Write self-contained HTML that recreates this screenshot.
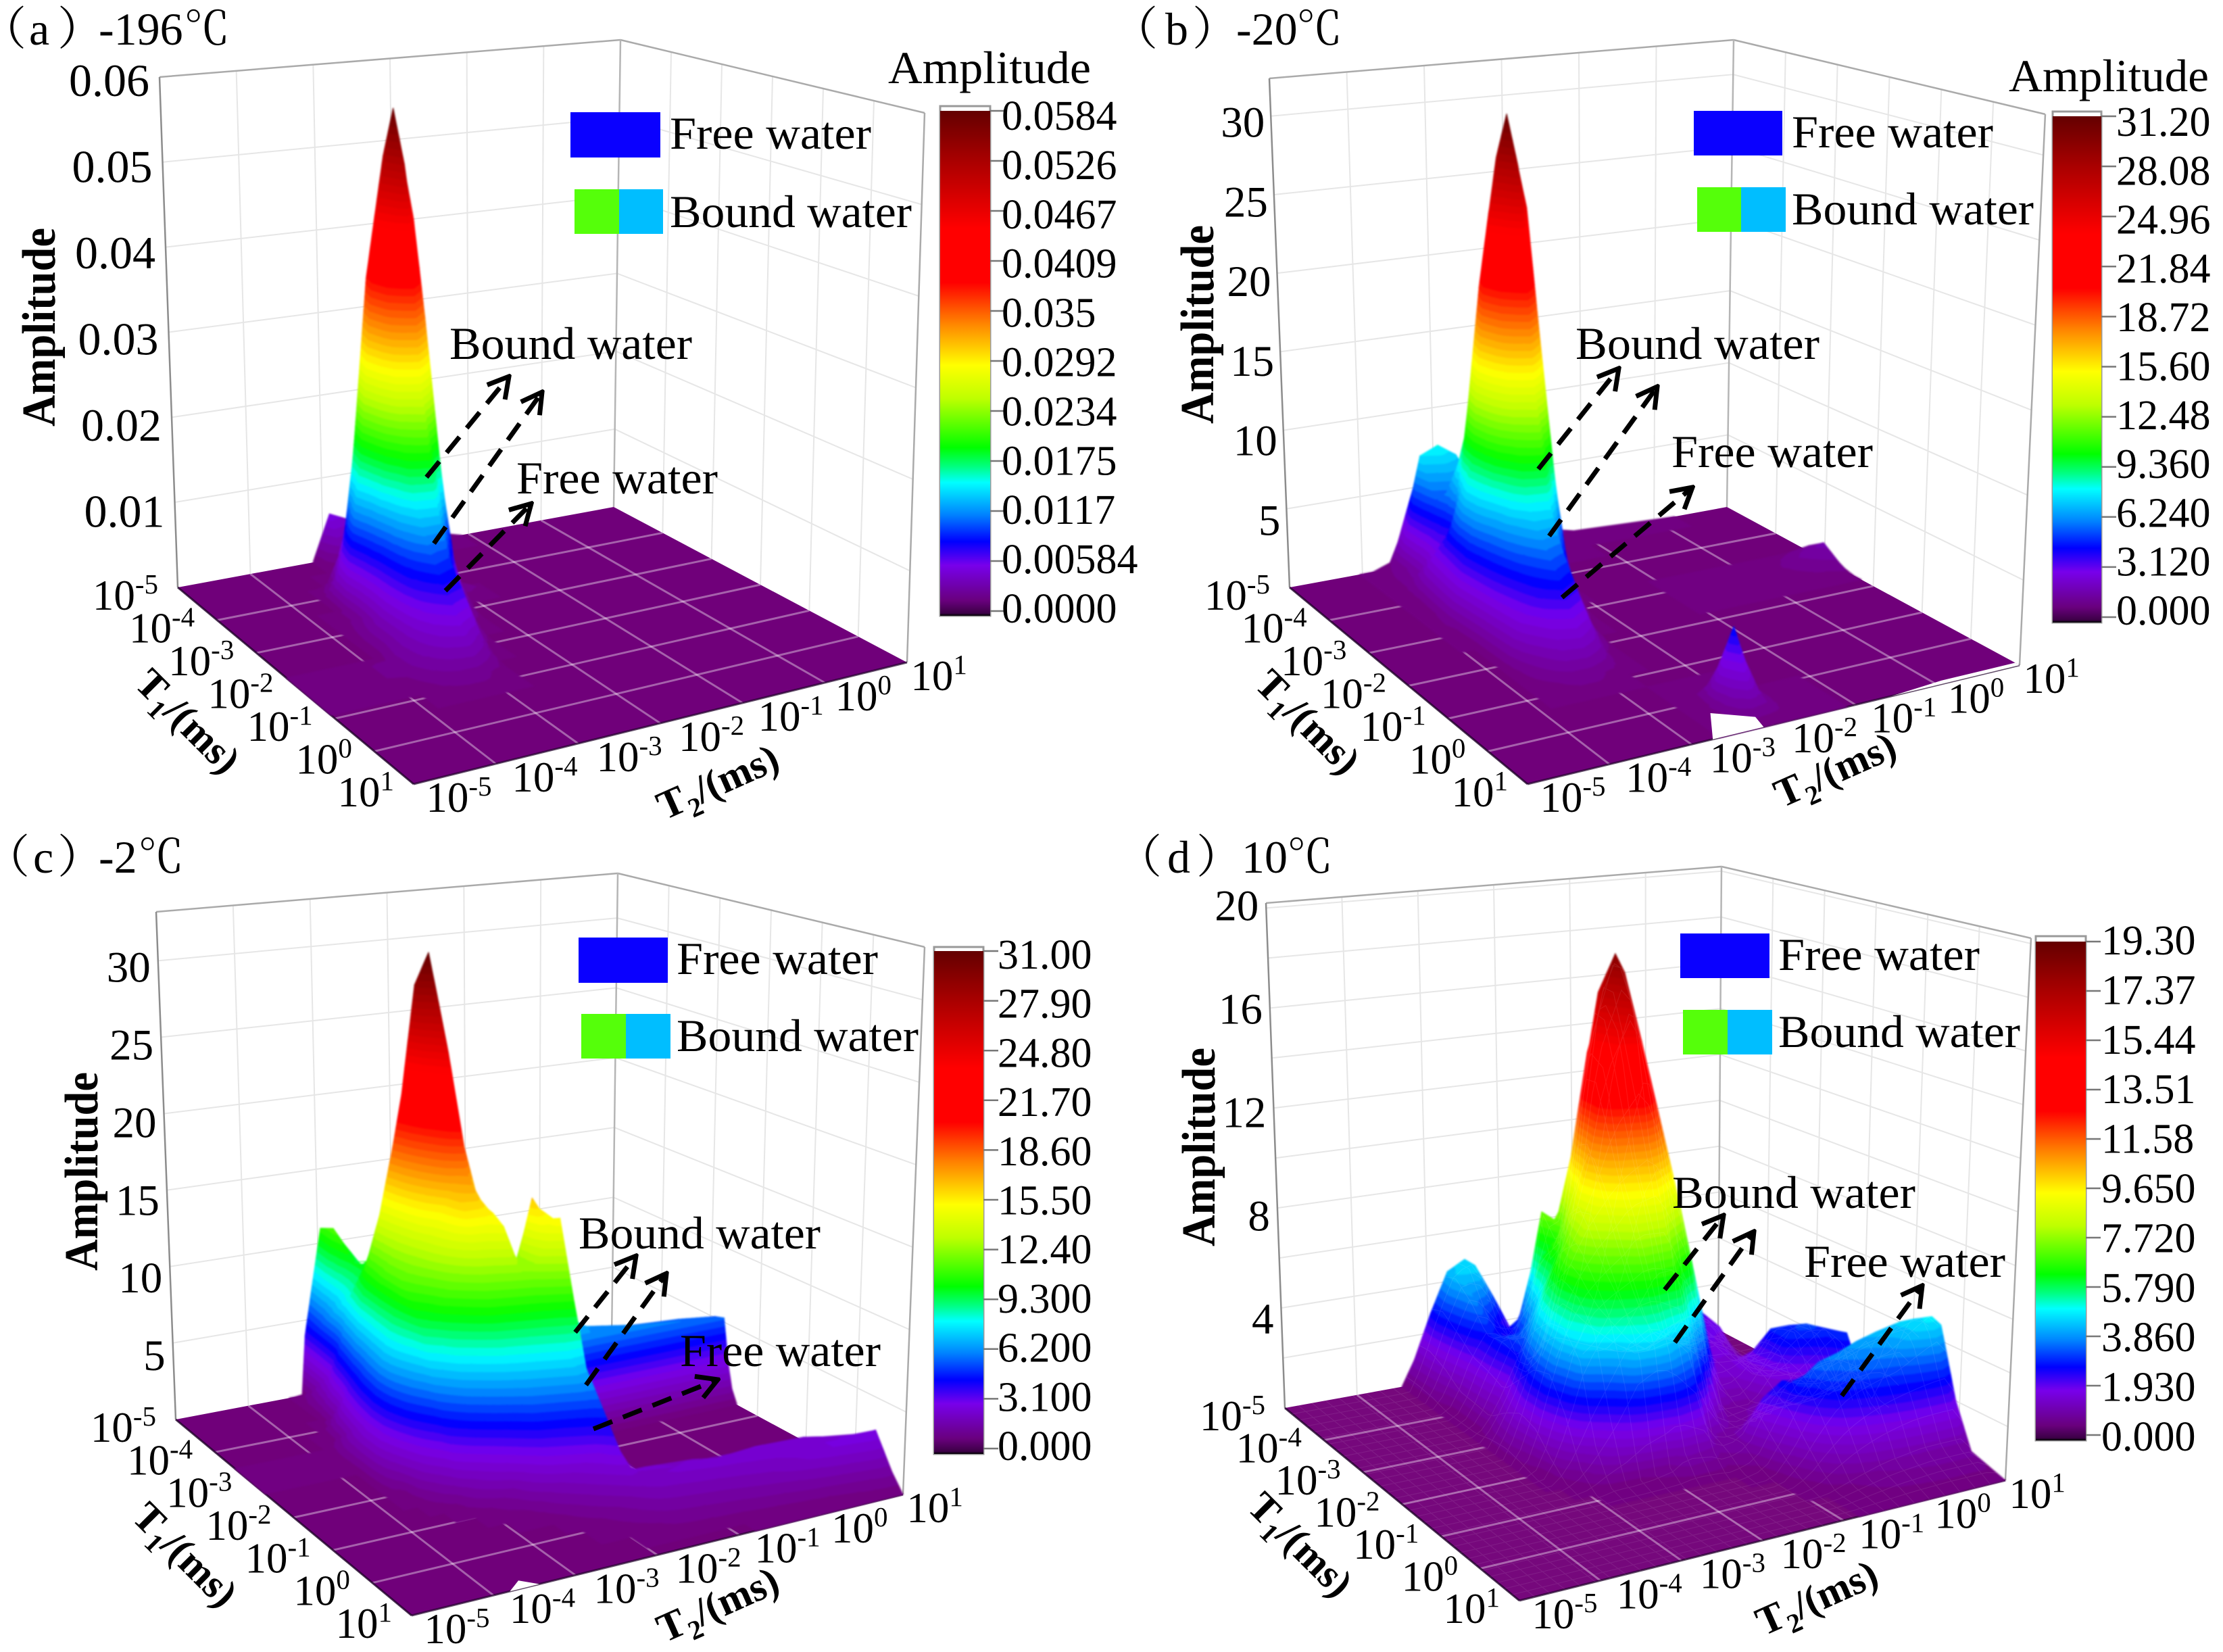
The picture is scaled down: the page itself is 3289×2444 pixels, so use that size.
<!DOCTYPE html>
<html lang="en">
<head>
<meta charset="utf-8">
<title>T1-T2 amplitude surfaces at four temperatures</title>
<style>
html,body{margin:0;padding:0;background:#fff}
svg{display:block}
text{font-family:"Liberation Serif","Noto Serif CJK SC",serif;fill:#000}
.leg{font-size:68px}
.amp{font-size:70px;font-weight:bold}
.ax{font-size:60px;font-weight:bold}
.ttl{font-size:68px}
</style>
</head>
<body>
<svg id="fig" xmlns="http://www.w3.org/2000/svg" width="3289" height="2444" viewBox="0 0 3289 2444">
<defs>
<linearGradient id="cbGrad" x1="0" y1="0" x2="0" y2="1">
<stop offset="0" stop-color="rgb(100,0,0)"/><stop offset=".1" stop-color="rgb(170,0,0)"/><stop offset=".233" stop-color="rgb(255,0,0)"/><stop offset=".34" stop-color="rgb(255,0,0)"/><stop offset=".42" stop-color="rgb(255,130,0)"/><stop offset=".504" stop-color="rgb(255,255,0)"/><stop offset=".57" stop-color="rgb(190,255,0)"/><stop offset=".667" stop-color="rgb(0,255,0)"/><stop offset=".705" stop-color="rgb(0,255,130)"/><stop offset=".736" stop-color="rgb(0,255,255)"/><stop offset=".8" stop-color="rgb(0,130,255)"/><stop offset=".853" stop-color="rgb(0,0,255)"/><stop offset=".9" stop-color="rgb(120,0,235)"/><stop offset=".97" stop-color="rgb(105,0,125)"/><stop offset=".995" stop-color="rgb(60,0,70)"/><stop offset="1" stop-color="#000"/>
</linearGradient>
<marker id="ah" viewBox="0 0 40 40" refX="36" refY="20" markerWidth="40" markerHeight="40" markerUnits="userSpaceOnUse" orient="auto"><path d="M6 3 L36 20 L6 37" fill="none" stroke="#000" stroke-width="7"/></marker>
</defs>

<g id="plot-a"></g>
<g id="plot-b"></g>
<g id="plot-c"></g>
<g id="plot-d"></g>

<!-- panel a -->
<g>
<text class="ttl" y="66"><tspan x="-29">（</tspan><tspan x="43">a</tspan><tspan x="85">）</tspan><tspan x="146">-196</tspan><tspan x="272">℃</tspan></text>
<text class="amp" transform="rotate(-90 81 484)" x="81" y="484" text-anchor="middle" textLength="294" lengthAdjust="spacingAndGlyphs">Amplitude</text>
<text class="ax" transform="rotate(45 264 1081)" x="264" y="1081" text-anchor="middle">T<tspan font-size="40" dy="14">1</tspan><tspan dy="-14">/(ms)</tspan></text>
<text class="ax" transform="rotate(-24 1070 1175)" x="1070" y="1175" text-anchor="middle">T<tspan font-size="40" dy="14">2</tspan><tspan dy="-14">/(ms)</tspan></text>
<text class="leg" x="1314" y="123" textLength="300" lengthAdjust="spacingAndGlyphs">Amplitude</text>
<rect x="844" y="166" width="133" height="67" fill="#0a00ff"/>
<rect x="850" y="280" width="66" height="66" fill="#55ff0a"/>
<rect x="916" y="280" width="65" height="66" fill="#00beff"/>
<text class="leg" x="991" y="220" textLength="298" lengthAdjust="spacingAndGlyphs">Free water</text>
<text class="leg" x="991" y="336" textLength="358" lengthAdjust="spacingAndGlyphs">Bound water</text>
<text class="leg" x="665" y="531" textLength="359" lengthAdjust="spacingAndGlyphs">Bound water</text>
<text class="leg" x="764" y="730" textLength="298" lengthAdjust="spacingAndGlyphs">Free water</text>
<line x1="631" y1="706" x2="753" y2="557" stroke="#000" stroke-width="7" stroke-dasharray="30 17" marker-end="url(#ah)"/>
<line x1="642" y1="804" x2="802" y2="580" stroke="#000" stroke-width="7" stroke-dasharray="30 17" marker-end="url(#ah)"/>
<line x1="659" y1="874" x2="786" y2="745" stroke="#000" stroke-width="7" stroke-dasharray="30 17" marker-end="url(#ah)"/>
</g>

<!-- panel b -->
<g>
<text class="ttl" y="66"><tspan x="1645">（</tspan><tspan x="1724">b</tspan><tspan x="1764">）</tspan><tspan x="1829">-20</tspan><tspan x="1918">℃</tspan></text>
<text class="amp" transform="rotate(-90 1795 480)" x="1795" y="480" text-anchor="middle" textLength="294" lengthAdjust="spacingAndGlyphs">Amplitude</text>
<text class="ax" transform="rotate(45 1921 1082)" x="1921" y="1082" text-anchor="middle">T<tspan font-size="40" dy="14">1</tspan><tspan dy="-14">/(ms)</tspan></text>
<text class="ax" transform="rotate(-24 2723 1157)" x="2723" y="1157" text-anchor="middle">T<tspan font-size="40" dy="14">2</tspan><tspan dy="-14">/(ms)</tspan></text>
<text class="leg" x="2972" y="135" textLength="296" lengthAdjust="spacingAndGlyphs">Amplitude</text>
<rect x="2506" y="164" width="131" height="66" fill="#0a00ff"/>
<rect x="2511" y="277" width="65" height="66" fill="#55ff0a"/>
<rect x="2576" y="277" width="66" height="66" fill="#00beff"/>
<text class="leg" x="2651" y="218" textLength="298" lengthAdjust="spacingAndGlyphs">Free water</text>
<text class="leg" x="2651" y="332" textLength="358" lengthAdjust="spacingAndGlyphs">Bound water</text>
<text class="leg" x="2331" y="531" textLength="361" lengthAdjust="spacingAndGlyphs">Bound water</text>
<text class="leg" x="2473" y="691" textLength="298" lengthAdjust="spacingAndGlyphs">Free water</text>
<line x1="2276" y1="694" x2="2395" y2="545" stroke="#000" stroke-width="7" stroke-dasharray="30 17" marker-end="url(#ah)"/>
<line x1="2292" y1="793" x2="2452" y2="572" stroke="#000" stroke-width="7" stroke-dasharray="30 17" marker-end="url(#ah)"/>
<line x1="2311" y1="884" x2="2504" y2="721" stroke="#000" stroke-width="7" stroke-dasharray="30 17" marker-end="url(#ah)"/>
</g>

<!-- panel c -->
<g>
<text class="ttl" y="1291"><tspan x="-24">（</tspan><tspan x="49">c</tspan><tspan x="85">）</tspan><tspan x="146">-2</tspan><tspan x="204">℃</tspan></text>
<text class="amp" transform="rotate(-90 144 1733)" x="144" y="1733" text-anchor="middle" textLength="294" lengthAdjust="spacingAndGlyphs">Amplitude</text>
<text class="ax" transform="rotate(45 260 2314)" x="260" y="2314" text-anchor="middle">T<tspan font-size="40" dy="14">1</tspan><tspan dy="-14">/(ms)</tspan></text>
<text class="ax" transform="rotate(-24 1070 2392)" x="1070" y="2392" text-anchor="middle">T<tspan font-size="40" dy="14">2</tspan><tspan dy="-14">/(ms)</tspan></text>
<rect x="856" y="1387" width="132" height="67" fill="#0a00ff"/>
<rect x="860" y="1500" width="66" height="66" fill="#55ff0a"/>
<rect x="926" y="1500" width="66" height="66" fill="#00beff"/>
<text class="leg" x="1001" y="1441" textLength="298" lengthAdjust="spacingAndGlyphs">Free water</text>
<text class="leg" x="1001" y="1555" textLength="358" lengthAdjust="spacingAndGlyphs">Bound water</text>
<text class="leg" x="856" y="1847" textLength="358" lengthAdjust="spacingAndGlyphs">Bound water</text>
<line x1="851" y1="1971" x2="941" y2="1858" stroke="#000" stroke-width="7" stroke-dasharray="30 17" marker-end="url(#ah)"/>
<line x1="867" y1="2049" x2="986" y2="1884" stroke="#000" stroke-width="7" stroke-dasharray="30 17" marker-end="url(#ah)"/>
<line x1="878" y1="2114" x2="1062" y2="2041" stroke="#000" stroke-width="7" stroke-dasharray="30 17" marker-end="url(#ah)"/>
<text class="leg" x="1006" y="2021" textLength="297" lengthAdjust="spacingAndGlyphs">Free water</text>
</g>

<!-- panel d -->
<g>
<text class="ttl" y="1291"><tspan x="1651">（</tspan><tspan x="1727">d</tspan><tspan x="1770">）</tspan><tspan x="1837">10</tspan><tspan x="1904">℃</tspan></text>
<text class="amp" transform="rotate(-90 1797 1697)" x="1797" y="1697" text-anchor="middle" textLength="294" lengthAdjust="spacingAndGlyphs">Amplitude</text>
<text class="ax" transform="rotate(45 1910 2299)" x="1910" y="2299" text-anchor="middle">T<tspan font-size="40" dy="14">1</tspan><tspan dy="-14">/(ms)</tspan></text>
<text class="ax" transform="rotate(-24 2696 2382)" x="2696" y="2382" text-anchor="middle">T<tspan font-size="40" dy="14">2</tspan><tspan dy="-14">/(ms)</tspan></text>
<rect x="2486" y="1381" width="132" height="66" fill="#0a00ff"/>
<rect x="2490" y="1494" width="66" height="66" fill="#55ff0a"/>
<rect x="2556" y="1494" width="66" height="66" fill="#00beff"/>
<text class="leg" x="2631" y="1435" textLength="298" lengthAdjust="spacingAndGlyphs">Free water</text>
<text class="leg" x="2631" y="1549" textLength="358" lengthAdjust="spacingAndGlyphs">Bound water</text>
<text class="leg" x="2474" y="1787" textLength="360" lengthAdjust="spacingAndGlyphs">Bound water</text>
<text class="leg" x="2669" y="1889" textLength="298" lengthAdjust="spacingAndGlyphs">Free water</text>
<line x1="2463" y1="1908" x2="2550" y2="1798" stroke="#000" stroke-width="7" stroke-dasharray="30 17" marker-end="url(#ah)"/>
<line x1="2478" y1="1986" x2="2595" y2="1822" stroke="#000" stroke-width="7" stroke-dasharray="30 17" marker-end="url(#ah)"/>
<line x1="2725" y1="2065" x2="2844" y2="1902" stroke="#000" stroke-width="7" stroke-dasharray="30 17" marker-end="url(#ah)"/>
</g>
</svg>

<script>
// ---------- shared axis data (log10 of T1, T2 in ms) ----------
const t1TickLogs = [-5,-4,-3,-2,-1,0,1];
const t2TickLogs = [-5,-4,-3,-2,-1,0,1];

// ---------- panel a (amplitude in units of 10^-3) ----------
const zTicksA = [10,20,30,40,50,60];
const zLabelsA = ['0.01','0.02','0.03','0.04','0.05','0.06'];
const cbLabelsA = ['0.0584','0.0526','0.0467','0.0409','0.035','0.0292','0.0234','0.0175','0.0117','0.00584','0.0000'];
const t1NodesA = [-5,-4.64,-4.28,-3.92,-3.62,-3.38,-3.14,-2.84,-2.54,-2.24,-1.88,-1.52,-1.1,-0.68,1];
const t2NodesA = [-5,-3.86,-3.62,-3.38,-3.14,-2.9,-2.66,-2.42,-2.18,-1.7,-1.1,1];
const amplitudeA = [
[0,0,0,0,0,0,0,0,0,0,0,0,0,0,0],
[0,0,0,0,0,0,0,0,0,0,1,1,0,0,0],
[0,0,0,0,0,1,1,2,3,3,3,2.5,1,0,0],
[0,0,0,3,12,18,13,10,9,8,6,4,1.5,0,0],
[0,0,.5,16,38,45,38,22,15,11,8,5,1.5,0,0],
[5.5,.5,1,24,52,58,52,28,16,10,7,3,.5,0,0],
[4.5,.5,.5,16,38,45,34,14,7,3,1,0,0,0,0],
[3.5,.5,0,3,12,18,9,3,1,0,0,0,0,0,0],
[3,.3,0,0,0,2,0,0,0,0,0,0,0,0,0],
[1.5,0,0,0,0,0,0,0,0,0,0,0,0,0,0],
[0,0,0,0,0,0,0,0,0,0,0,0,0,0,0],
[0,0,0,0,0,0,0,0,0,0,0,0,0,0,0]];

// ---------- panel b ----------
const zTicksB = [5,10,15,20,25,30];
const zLabelsB = ['5','10','15','20','25','30'];
const cbLabelsB = ['31.20','28.08','24.96','21.84','18.72','15.60','12.48','9.360','6.240','3.120','0.000'];
const t1NodesB = [-5,-4.64,-4.28,-3.92,-3.62,-3.38,-3.14,-2.84,-2.54,-2.24,-1.88,-1.52,-1.1,-0.68,-0.08,0.4,0.82,1];
const t2NodesB = [-5,-4.04,-3.86,-3.62,-3.38,-3.14,-2.9,-2.66,-2.42,-2.18,-1.94,-1.7,-1.1,0.28,0.88,1];
const amplitudeB = [
[0,0,0,0,0,0,0,0,0,0,0,0,0,0,0,0,0,0],
[0,0,0,0,0,0,0,0,0,0,0,0,0,0,0,0,0,0],
[0,.2,.1,0,.3,.5,.6,.3,0,0,0,0,0,0,0,0,0,0],
[.4,.8,1.2,3,3.5,4,4.5,4,3.5,3,2.5,1.2,.3,0,0,0,0,0],
[3,7.8,5.5,4,8,10,9,7,6,5,4,2.5,.8,0,0,0,0,0],
[6.5,8.3,6,11,20,25,20,12,8,6.5,5,3,.8,0,0,0,0,0],
[7,7.5,6,16,28,31,28,15,8.5,6,4,2,.3,0,0,0,0,0],
[5,5,5,10,20,25,18,8,4,2,1,.2,0,0,0,0,0,0],
[3,3,2,3,7,10,5,1.5,.5,0,0,0,0,0,.1,.5,.3,0],
[2,1.5,.3,0,0,.5,0,0,0,0,0,0,0,0,.3,4.8,1,0],
[1.5,.5,0,0,0,0,0,0,0,0,0,0,0,0,.1,1.2,.6,0],
[1,.5,0,0,0,0,0,0,0,0,0,0,0,0,0,.1,.2,0],
[.3,0,0,0,0,0,0,0,0,0,0,0,0,0,0,0,0,0],
[0,0,0,0,0,0,.1,.3,.1,0,0,0,0,0,0,0,0,0],
[0,0,0,0,0,0,.8,1.5,.8,0,0,0,0,0,0,0,0,0],
[0,0,0,0,0,0,0,0,0,0,0,0,0,0,0,0,0,0]];
const gapsB = [
[[-2.74,1],[-2.42,.34],[-2.06,.7],[-2.12,1]],
[[-.56,1],[1,1],[1,.91],[.1,.91]]];

// ---------- panel c ----------
const zTicksC = [5,10,15,20,25,30];
const zLabelsC = ['5','10','15','20','25','30'];
const cbLabelsC = ['31.00','27.90','24.80','21.70','18.60','15.50','12.40','9.300','6.200','3.100','0.000'];
const t1NodesC = [-5,-4.7,-4.28,-3.92,-3.5,-3.08,-2.72,-2.54,-2.42,-2.18,-1.88,-1.58,-1.28,-.98,-.68,-.38,-.08,.4,.76,1];
const t2NodesC = [-5,-3.8,-3.62,-3.44,-3.26,-3.2,-2.96,-2.72,-2.54,-2.36,-2.18,-2,-1.82,-1.64,-1.52,-1.4,-.8,-.2,.4,.88,1];
const amplitudeC = [
[0,0,0,0,0,0,0,0,0,0,0,0,0,0,0,0,0,0,0,0],
[0,0,0,0,0,.3,0,0,0,0,0,0,0,0,0,0,0,0,0,0],
[0,0,0,0,.5,2,3,3,3,2,.3,0,0,0,0,0,0,0,0,0],
[0,0,0,.8,4,6,7,6.8,6.3,5,3,1,0,0,0,0,0,0,0,0],
[0,1,3,7,9.5,10,10,9.5,9,7.5,5,2.5,.5,0,0,0,0,0,0,0],
[4,5,7,8.5,10.5,11.5,11.5,11,10.5,9,6,3.5,1,0,0,0,0,0,0,0],
[11,11.5,10,10,15.5,14,13,12.5,12,11,8.5,5.5,2.5,.5,0,0,0,0,0,0],
[9.5,9.5,9,12,22,18,15,14.5,14,12.5,10,7,4,1.2,.2,0,0,0,0,0],
[5,6,8,18,29,21,17,16.5,16,13.5,11,8,5,2.5,.8,0,0,0,0,0],
[3,4,7,20,31,25,18,17,16,14,11.5,8.5,6,3.5,1.5,.5,0,0,0,0],
[0,0,5,14,21,18,15.5,15.5,15.5,15,12,9,6.5,4,2,1,.3,0,0,0],
[0,0,3,8,12,11,10,10,10.5,12,12.5,9.5,7,4.5,2.5,1.5,.6,0,0,0],
[0,0,2,5,8,9,9,11,13,16.5,14,10,7.5,5,3,2,1,.2,0,0],
[0,0,1,3,6,8,8.5,9,10,15,15.5,11,7,5.5,4,2.5,1.5,.4,0,0],
[0,0,0,2,5,7.5,8.5,8,6,2,1,.5,.5,.8,1.5,2.2,1.8,.6,0,0],
[0,0,0,1.5,4,6.5,8.5,8,1,0,0,0,0,.3,1,2.2,2,.7,0,0],
[0,0,0,1,3,5.5,6.5,6.3,0,0,0,0,0,0,.5,2,2.4,1,0,0],
[0,0,0,.8,2.5,5,6,6.2,0,0,0,0,0,0,0,1,2.6,1.5,.2,0],
[0,0,0,.5,2,4.5,5.8,6,0,0,0,0,0,0,0,.3,2.5,2.5,.5,0],
[0,0,0,0,1.5,4,5.5,5.7,0,0,0,0,0,0,0,0,2,3,1,0],
[0,0,0,0,0,0,0,0,0,0,0,0,0,0,0,0,1.5,3,1,0]];
const gapsC = [[[-3.8,1],[-3.59,.79],[-3.44,1]]];

// ---------- panel d ----------
const zTicksD = [4,8,12,16,20];
const zLabelsD = ['4','8','12','16','20'];
const zMinorTicksD = [2,6,10,14,18];
const cbLabelsD = ['19.30','17.37','15.44','13.51','11.58','9.650','7.720','5.790','3.860','1.930','0.000'];
const t1NodesD = [-5,-4.76,-4.4,-4.04,-3.68,-3.32,-2.96,-2.6,-2.24,-1.88,-1.52,-1.16,-.8,-.44,-.08,.28,1];
const t2NodesD = [-5,-3.38,-3.2,-2.96,-2.72,-2.48,-2.24,-2,-1.82,-1.46,-1.34,-1.04,-.8,-.56,-.32,-.08,.16,.4,.7,.88,1];
const amplitudeD = [
[0,0,0,0,0,0,0,0,0,0,0,0,0,0,0,0,0],
[0,0,0,0,0,0,0,0,0,0,0,0,0,0,0,0,0],
[1,1,.8,.3,.3,.3,.8,1,.6,.1,0,0,0,0,0,0,0],
[2.8,3,2.5,2,1.8,1.5,2.2,3,3.2,2,.5,0,0,0,0,0,0],
[4.4,4.6,4,3,3.2,3,4.5,5.2,5.3,4.5,1.5,.2,0,0,0,0,0],
[4.8,4.8,3,2.5,3,4.8,6.5,7.2,6.5,5.5,2.8,.2,0,0,0,0,0],
[3.4,3.4,2,3.5,6,6.5,8,8.6,7.2,5.9,4.4,.3,0,0,0,0,0],
[1.5,1.5,2,7.5,6.5,9,11,9.6,7.8,6.2,4.8,.5,0,0,0,0,0],
[0,0,1,5,10,14.5,14,10.2,8.5,6.4,4.5,1,0,0,0,0,0],
[.3,1.5,5,11,16.5,18.3,16.5,11,8.5,6,3,.8,0,0,0,0,0],
[0,1.5,5,10,15,17.5,15,10.5,7.5,5,1,.5,0,0,0,0,0],
[0,1,3,6.5,10,13,11,8.5,5.5,1.2,.6,.8,.3,0,0,0,0],
[0,.6,2,4,7,8,7.5,5,.8,.6,.8,2.3,1.5,.8,.3,0,0],
[0,.2,1,2,2,2,1.8,1.2,.7,.8,1,2.8,3,2,1,.2,0],
[0,0,.5,1.2,1.6,1.7,1.6,1.3,.7,1,1.2,2.2,3.7,3,1.6,.4,0],
[0,0,1.5,2.2,2.2,1.8,1.5,2,1.8,1,1.2,2,3.9,3.4,2,.6,0],
[0,.5,1.6,2.2,2,1,1.5,3,3,1.4,1.3,2.2,4.2,3.6,2.3,.7,0],
[0,0,.8,1.2,.6,.2,1.5,3,3.4,2,1.4,2.4,4.4,3.8,2.5,.8,0],
[0,0,0,0,0,0,.8,1.8,3,3.2,1.6,2.5,4.6,4.6,2.6,.8,0],
[0,0,0,0,0,0,0,.8,1,1,.3,2.5,4.6,5,2.6,.8,0],
[0,0,0,0,0,0,0,0,0,0,0,2,4.2,4.6,2,.4,0]];

// ---------- rendering ----------
const NS = 'http://www.w3.org/2000/svg';
const cmapStops = [[0,112,0,122],[.1,120,0,235],[.147,0,0,255],[.2,0,130,255],[.264,0,255,255],[.295,0,255,130],[.333,0,255,0],[.43,190,255,0],[.496,255,255,0],[.58,255,130,0],[.66,255,0,0],[.767,255,0,0],[.9,170,0,0],[1,100,0,0]];
function cmap(f){
  f = Math.max(0, Math.min(1, f));
  for (let i = 1; i < cmapStops.length; i++) {
    if (f <= cmapStops[i][0]) {
      const a = cmapStops[i-1], b = cmapStops[i], t = (f-a[0])/(b[0]-a[0]);
      return 'rgb(' + Math.round(a[1]+(b[1]-a[1])*t) + ',' + Math.round(a[2]+(b[2]-a[2])*t) + ',' + Math.round(a[3]+(b[3]-a[3])*t) + ')';
    }
  }
  return 'rgb(100,0,0)';
}
const logScale = v => (v + 5) / 6;   // log10(T) -> 0..1 along the floor axis

function svgEl(tag, parent){
  const el = document.createElementNS(NS, tag);
  parent.appendChild(el);
  return el;
}
function line(parent, a, b, stroke, width, name){
  const el = svgEl('line', parent);
  el.setAttribute('x1', a[0]); el.setAttribute('y1', a[1]);
  el.setAttribute('x2', b[0]); el.setAttribute('y2', b[1]);
  el.setAttribute('stroke', stroke); el.setAttribute('stroke-width', width);
  
  
  return el;
}
function pathD(pts){
  return 'M' + pts.map(p => p[0].toFixed(1) + ' ' + p[1].toFixed(1)).join('L') + 'Z';
}
function label(parent, str, x, y, size, anchor, name){
  const el = svgEl('text', parent);
  el.setAttribute('x', x); el.setAttribute('y', y);
  el.setAttribute('font-size', size); el.setAttribute('text-anchor', anchor);
  el.textContent = str;
  
  
  return el;
}
function powerLabel(parent, exp, x, y, anchor, name){
  const el = svgEl('text', parent);
  el.setAttribute('x', x); el.setAttribute('y', y);
  el.setAttribute('font-size', 63); el.setAttribute('text-anchor', anchor);
  const base = svgEl('tspan', el);
  base.textContent = '10';
  const sup = svgEl('tspan', el);
  sup.setAttribute('font-size', 41); sup.setAttribute('dy', -24);
  sup.textContent = String(exp);
  
  
}

function drawPanel(c){
  const g = document.getElementById(c.id);
  const vec = (a,b) => [b[0]-a[0], b[1]-a[1]];
  const vL = vec(c.L,c.TL), vB = vec(c.B,c.TB), vR = vec(c.R,c.TR);
  const vF = [vL[0]+vR[0]-vB[0], vL[1]+vR[1]-vB[1]];
  const proj = (u,v,h) => {
    const w = [(1-u)*(1-v), u*(1-v), (1-u)*v, u*v];
    const z = h / c.zMax;
    return [0,1].map(k => w[0]*(c.L[k]+z*vL[k]) + w[1]*(c.B[k]+z*vB[k]) + w[2]*(c.F[k]+z*vF[k]) + w[3]*(c.R[k]+z*vR[k]));
  };
  const U = c.t2Nodes.map(logScale), V = c.t1Nodes.map(logScale), A = c.amp;
  const gridLogs = t2TickLogs.slice(1,-1);

  // walls
  const walls = svgEl('g', g);
  
  
  c.zGrid.forEach(z => {
    line(walls, proj(0,0,z), proj(1,0,z), '#e6e6e6', 2, 'left-wall-gridline');
    line(walls, proj(1,0,z), proj(1,1,z), '#e6e6e6', 2, 'right-wall-gridline');
  });
  gridLogs.forEach(l => {
    const t = logScale(l);
    line(walls, proj(t,0,0), proj(t,0,c.zMax), '#e6e6e6', 2, 'left-wall-gridline');
    line(walls, proj(1,t,0), proj(1,t,c.zMax), '#e6e6e6', 2, 'right-wall-gridline');
  });
  line(walls, c.TL, c.TB, '#aaaaaa', 2.5, 'frame-top-left');
  line(walls, c.TB, c.TR, '#aaaaaa', 2.5, 'frame-top-right');
  line(walls, c.B, c.TB, '#b5b5b5', 2.5, 'frame-back-edge');
  line(walls, c.R, c.TR, '#aaaaaa', 2.5, 'frame-right-edge');
  line(walls, c.L, c.TL, '#8c8c8c', 2.5, 'amplitude-axis-line');

  // floor
  const floor = svgEl('path', g);
  floor.setAttribute('d', pathD([c.L, c.B, c.R, c.F]));
  floor.setAttribute('fill', c.floorColor);
  
  
  const fg = svgEl('g', g);
  
  
  gridLogs.forEach(l => {
    const t = logScale(l);
    line(fg, proj(t,0,0), proj(t,1,0), 'rgba(255,255,255,.38)', 3, 'floor-gridline-t2');
    line(fg, proj(0,t,0), proj(1,t,0), 'rgba(255,255,255,.38)', 3, 'floor-gridline-t1');
  });
  line(fg, c.L, c.F, 'rgba(30,0,40,.8)', 3, 'floor-edge-t1');
  line(fg, c.F, c.R, 'rgba(30,0,40,.7)', 3, 'floor-edge-t2');

  // surface: painter's order from the back corner to the front corner
  const sg = svgEl('g', g);
  
  
  sg.setAttribute('stroke-width', '1');
  sg.setAttribute('stroke-linejoin', 'round');
  sg.style.filter = 'blur(1.2px)';
  const levels = 72, dh = c.cbMax / levels;
  let curFill = null, curD = '';
  const flush = () => {
    if (!curD) return;
    const p = svgEl('path', sg);
    p.setAttribute('d', curD);
    p.setAttribute('fill', curFill);
    p.setAttribute('stroke', curFill);
    
    
    curD = '';
  };
  const clip = (poly, lvl, keepAbove) => {
    const out = [];
    for (let i = 0; i < poly.length; i++) {
      const a = poly[i], b = poly[(i+1) % poly.length];
      const ina = keepAbove ? a[2] >= lvl : a[2] <= lvl;
      const inb = keepAbove ? b[2] >= lvl : b[2] <= lvl;
      if (ina) out.push(a);
      if (ina !== inb) {
        const t = (lvl - a[2]) / (b[2] - a[2]);
        out.push([a[0]+(b[0]-a[0])*t, a[1]+(b[1]-a[1])*t, lvl]);
      }
    }
    return out;
  };
  const tri = (a,b,d) => {
    const lo = Math.min(a[2],b[2],d[2]), hi = Math.max(a[2],b[2],d[2]);
    const k0 = Math.floor(lo/dh), k1 = Math.min(Math.floor(hi/dh), levels);
    for (let k = k0; k <= k1; k++) {
      let poly = [a,b,d];
      if (k0 !== k1) {
        poly = clip(poly, k*dh, true);
        if (poly.length >= 3) poly = clip(poly, (k+1)*dh, false);
        if (poly.length < 3) continue;
      }
      const fill = cmap((k+.5)*dh/c.cbMax);
      if (fill !== curFill) { flush(); curFill = fill; }
      curD += pathD(poly.map(q => proj(q[0],q[1],q[2])));
    }
  };
  const sub = 2;
  for (let i = U.length-2; i >= 0; i--) {
    for (let j = 0; j < V.length-1; j++) {
      const h00 = A[i][j], h10 = A[i+1][j], h01 = A[i][j+1], h11 = A[i+1][j+1];
      if (h00 === 0 && h10 === 0 && h01 === 0 && h11 === 0) continue;
      const P = (a,b) => {
        const s = a/sub, t = b/sub;
        return [U[i]+(U[i+1]-U[i])*s, V[j]+(V[j+1]-V[j])*t,
                (1-s)*(1-t)*h00 + s*(1-t)*h10 + (1-s)*t*h01 + s*t*h11];
      };
      for (let a = sub-1; a >= 0; a--) for (let b = 0; b < sub; b++) {
        const p1 = P(a,b), p2 = P(a+1,b), p3 = P(a+1,b+1), p4 = P(a,b+1);
        tri(p2,p3,p1);
        tri(p1,p3,p4);
      }
    }
  }
  flush();

  // holes where the surface was clipped
  (c.gaps || []).forEach(gap => {
    const p = svgEl('path', g);
    p.setAttribute('d', pathD(gap.map(q => proj(logScale(q[0]), logScale(q[1]), 0))));
    p.setAttribute('fill', '#fff');
    
    
  });

  // mesh overlay
  if (c.mesh) {
    const amp = (u,v) => {
      let i = 0, j = 0;
      while (i < U.length-2 && U[i+1] < u) i++;
      while (j < V.length-2 && V[j+1] < v) j++;
      const s = (u-U[i])/(U[i+1]-U[i]), t = (v-V[j])/(V[j+1]-V[j]);
      return (1-s)*(1-t)*A[i][j] + s*(1-t)*A[i+1][j] + (1-s)*t*A[i][j+1] + s*t*A[i+1][j+1];
    };
    const mg = svgEl('g', g);
    
    
    let d = '';
    for (let k = 1; k < 32; k++) {
      const q = k/32, a = [], b = [];
      for (let m = 0; m <= 48; m++) {
        const r = m/48;
        a.push(proj(q, r, amp(q,r)));
        b.push(proj(r, q, amp(r,q)));
      }
      d += 'M' + a.map(p => p[0].toFixed(1)+' '+p[1].toFixed(1)).join('L');
      d += 'M' + b.map(p => p[0].toFixed(1)+' '+p[1].toFixed(1)).join('L');
    }
    const mp = svgEl('path', mg);
    mp.setAttribute('d', d);
    mp.setAttribute('fill', 'none');
    mp.setAttribute('stroke', 'rgba(255,255,255,.08)');
    mp.setAttribute('stroke-width', '1.2');
    
    
  }

  // axis tick labels
  c.zTicks.forEach((z,i) => {
    const p = proj(0,0,z);
    const off = c.labelBase + c.labelGrow*(1 - z/c.zMax);
    label(g, c.zLabels[i], p[0]-c.tickGap, p[1]+off+22, c.tickSize, 'end', 'amplitude-tick-label');
  });
  t1TickLogs.forEach(l => {
    const v = logScale(l), p = proj(0, v, 0);
    const inner = (v > 0 && v < 1) ? 4 : 0;
    powerLabel(g, l, p[0]-29-inner, p[1]+33, 'end', 't1-tick-label');
  });
  t2TickLogs.forEach(l => {
    const u = logScale(l), p = proj(u, 1, 0);
    const dx = 1.08*(5 + 12*(1-u) + 14*Math.sin(Math.PI*u));
    powerLabel(g, l, p[0]+dx, p[1]+41, 'start', 't2-tick-label');
  });

  // colour bar
  const bar = c.bar;
  const cb = svgEl('g', g);
  
  
  const cap = svgEl('rect', cb);
  cap.setAttribute('x', bar.x); cap.setAttribute('y', bar.top);
  cap.setAttribute('width', bar.w); cap.setAttribute('height', bar.bottom-bar.top);
  cap.setAttribute('fill', '#fff'); cap.setAttribute('stroke', '#999'); cap.setAttribute('stroke-width', 3);
  
  
  const ramp = svgEl('rect', cb);
  ramp.setAttribute('x', bar.x); ramp.setAttribute('y', bar.t0);
  ramp.setAttribute('width', bar.w); ramp.setAttribute('height', bar.bottom-bar.t0);
  ramp.setAttribute('fill', 'url(#cbGrad)');
  
  
  c.cbLabels.forEach((s,i) => {
    const q = i/(c.cbLabels.length-1);
    const y = bar.t0 + (bar.t1-bar.t0)*q;
    const ly = bar.l0 + (bar.l1-bar.l0)*q;
    line(cb, [bar.x+bar.w, y], [bar.x+bar.w+22, y], '#777', 2.5, 'colorbar-tick');
    label(cb, s, bar.labelX, ly+21, 62, 'start', 'colorbar-tick-label');
  });
}

drawPanel({id:'plot-a', tag:'panel-a', L:[263,869], B:[908,750], F:[612,1160], R:[1342,980], TL:[236,114], TB:[918,59], TR:[1368,167],
  zMax:60, cbMax:58.4, zTicks:zTicksA, zLabels:zLabelsA, zGrid:zTicksA, cbLabels:cbLabelsA, labelBase:6, labelGrow:10, tickSize:68, tickGap:15,
  t1Nodes:t1NodesA, t2Nodes:t2NodesA, amp:amplitudeA, floorColor:'rgb(112,0,122)',
  bar:{x:1391,w:74,top:157,t0:164,t1:904,bottom:911,labelX:1482,l0:171,l1:900}});
drawPanel({id:'plot-b', tag:'panel-b', L:[1908,869], B:[2555,750], F:[2260,1160], R:[2988,984], TL:[1878,116], TB:[2565,59], TR:[3026,169],
  zMax:32.4, cbMax:31.2, zTicks:zTicksB, zLabels:zLabelsB, zGrid:zTicksB, cbLabels:cbLabelsB, labelBase:8, labelGrow:10, tickSize:65, tickGap:9,
  t1Nodes:t1NodesB, t2Nodes:t2NodesB, amp:amplitudeB, floorColor:'rgb(112,0,122)', gaps:gapsB,
  bar:{x:3037,w:72,top:165,t0:172,t1:913,bottom:921,labelX:3131,l0:180,l1:903}});
drawPanel({id:'plot-c', tag:'panel-c', L:[260,2100], B:[905,1978], F:[609,2390], R:[1336,2211], TL:[231,1349], TB:[914,1292], TR:[1368,1401],
  zMax:33.2, cbMax:31, zTicks:zTicksC, zLabels:zLabelsC, zGrid:zTicksC, cbLabels:cbLabelsC, labelBase:8, labelGrow:12, tickSize:65, tickGap:11,
  t1Nodes:t1NodesC, t2Nodes:t2NodesC, amp:amplitudeC, floorColor:'rgb(112,0,122)', gaps:gapsC,
  bar:{x:1382,w:73,top:1401,t0:1407,t1:2143,bottom:2151,labelX:1476,l0:1412,l1:2139}});
drawPanel({id:'plot-d', tag:'panel-d', L:[1901,2083], B:[2542,1967], F:[2248,2368], R:[2967,2190], TL:[1873,1336], TB:[2547,1282], TR:[3005,1388],
  zMax:20.2, cbMax:19.3, zTicks:zTicksD, zLabels:zLabelsD, zGrid:zTicksD.concat(zMinorTicksD), cbLabels:cbLabelsD, labelBase:-4, labelGrow:25, tickSize:65, tickGap:11,
  t1Nodes:t1NodesD, t2Nodes:t2NodesD, amp:amplitudeD, floorColor:'rgb(118,8,124)', mesh:true,
  bar:{x:3012,w:74,top:1385,t0:1393,t1:2123,bottom:2131,labelX:3109,l0:1391,l1:2125}});
</script>
</body>
</html>
